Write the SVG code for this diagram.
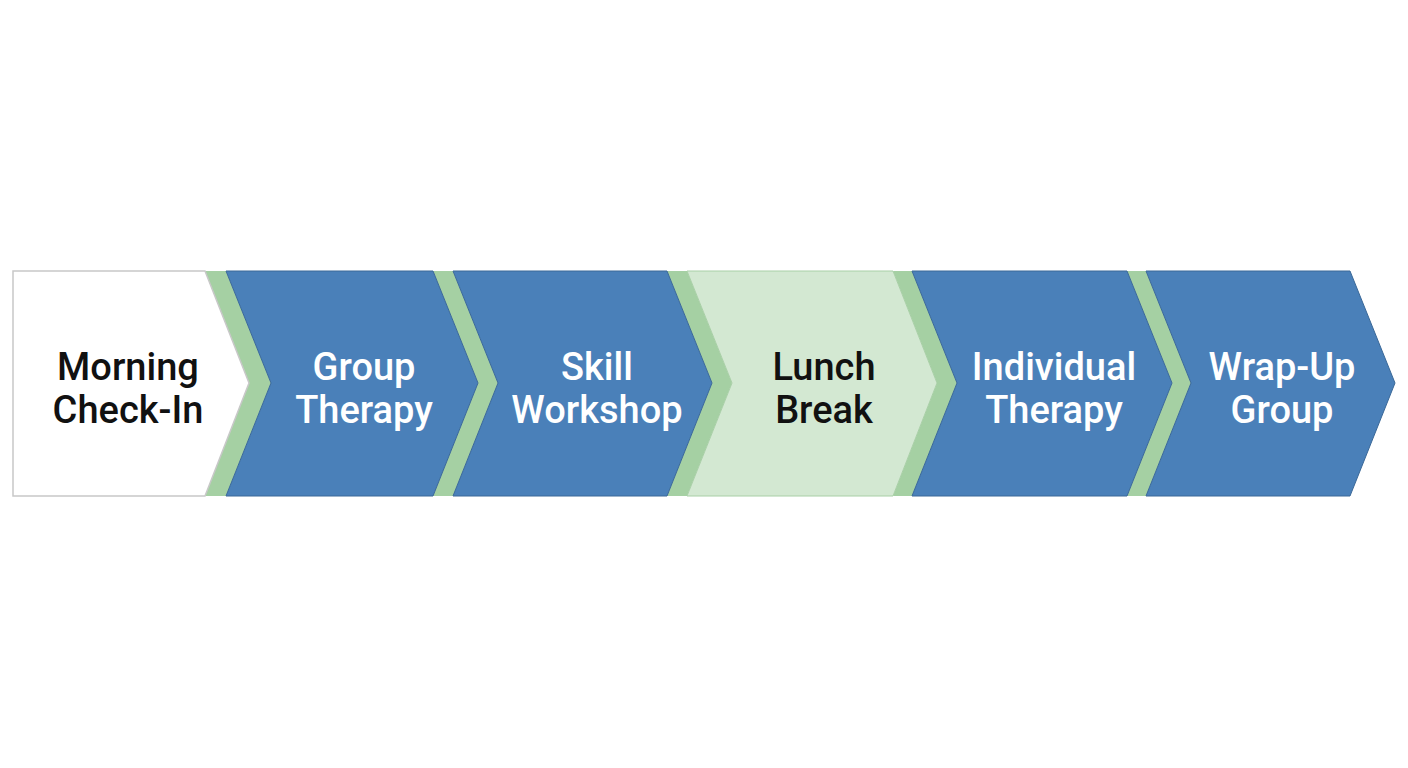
<svg xmlns="http://www.w3.org/2000/svg" width="1408" height="768" viewBox="0 0 1408 768">
<style>
.band{fill:#a5d0a3;}
.blue{fill:#4a80b9;stroke:#3a6898;stroke-width:1;}
.white{fill:#ffffff;stroke:#c8c8c8;stroke-width:1.5;}
.lunch{fill:#d3e8d2;stroke:#a8cfa6;stroke-width:1;}
text{font-family:Roboto,"Liberation Sans",sans-serif;font-size:38px;font-weight:500;text-anchor:middle;}
.lt{fill:#ffffff;}
.dk{fill:#111111;}
</style>
<rect width="1408" height="768" fill="#ffffff"/>
<g id="connectors">
<polygon class="band" points="204,271 226,271 271,383 226,496 204,496 249,383"/>
<polygon class="band" points="433,271 453,271 498,383 453,496 433,496 478,383"/>
<polygon class="band" points="667,271 687,271 732,383 687,496 667,496 712,383"/>
<polygon class="band" points="893,271 912,271 957,383 912,496 893,496 937,383"/>
<polygon class="band" points="1127,271 1146,271 1191,383 1146,496 1127,496 1172,383"/>
</g>
<g id="node1">
<polygon class="white" points="13,271 205,271 249,383 205,496 13,496"/>
<text class="dk" x="128" y="380">Morning</text>
<text class="dk" x="128" y="423">Check-In</text>
</g>
<g id="node2">
<polygon class="blue" points="226,271 433,271 478,383 433,496 226,496 271,383"/>
<text class="lt" x="364" y="380">Group</text>
<text class="lt" x="364" y="423">Therapy</text>
</g>
<g id="node3">
<polygon class="blue" points="453,271 667,271 712,383 667,496 453,496 498,383"/>
<text class="lt" x="597" y="380">Skill</text>
<text class="lt" x="597" y="423">Workshop</text>
</g>
<g id="node4">
<polygon class="lunch" points="687,271 893,271 937,383 893,496 687,496 732,383"/>
<text class="dk" x="824" y="380">Lunch</text>
<text class="dk" x="824" y="423">Break</text>
</g>
<g id="node5">
<polygon class="blue" points="912,271 1127,271 1172,383 1127,496 912,496 957,383"/>
<text class="lt" x="1054" y="380">Individual</text>
<text class="lt" x="1054" y="423">Therapy</text>
</g>
<g id="node6">
<polygon class="blue" points="1146,271 1350,271 1395,383 1350,496 1146,496 1191,383"/>
<text class="lt" x="1282" y="380">Wrap-Up</text>
<text class="lt" x="1282" y="423">Group</text>
</g>
</svg>
